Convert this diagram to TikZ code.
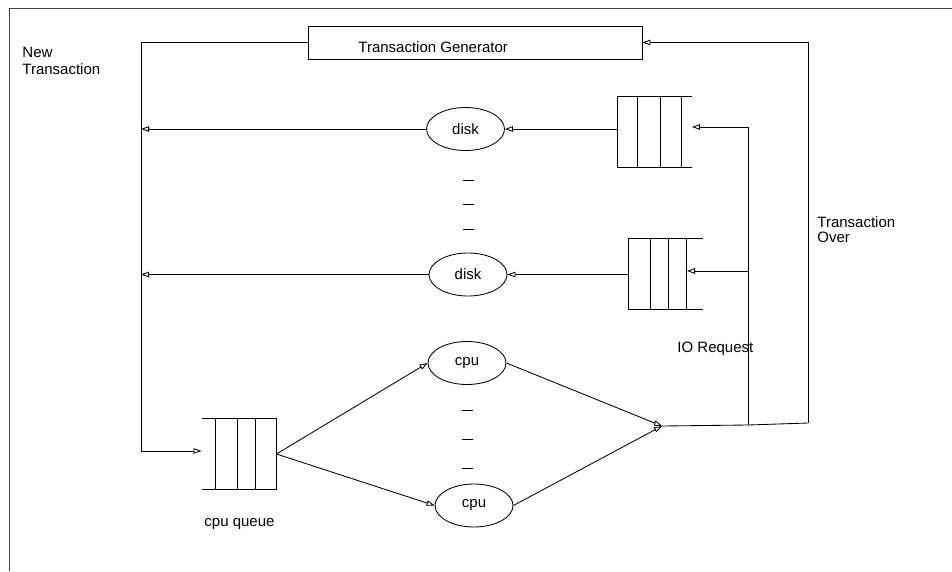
\documentclass[tikz,border=0pt]{standalone}
\usepackage{fontspec}
\setmainfont{Liberation Sans}
\usetikzlibrary{arrows.meta,shapes.geometric,calc}
\begin{document}
\begin{tikzpicture}[x=1pt,y=-1pt,line width=0.85pt,
  arr/.style={-{Triangle[open,length=8pt,width=5.5pt,line width=0.85pt]}},
  proc/.style={draw,ellipse,minimum width=78pt,minimum height=43pt,inner sep=0pt,font=\fontsize{15}{16}\selectfont},
  lbl/.style={inner sep=0pt,font=\fontsize{15}{16}\selectfont},
  qbox/.style={inner sep=0pt,minimum width=74pt,minimum height=70pt},
  dashbar/.style={line width=0.85pt}]
\useasboundingbox (0,0) rectangle (952,571);
% frame
\draw[line width=1pt,black!75] (952,8) -- (9,8) -- (9,571);
% transaction generator
\node[draw,inner sep=0pt,minimum width=334pt,minimum height=33pt] (gen) at (475,42.5) {};
\node[lbl,anchor=base west] (genlbl) at (358,52) {Transaction Generator};
% labels
\node[lbl,anchor=base west] (newA) at (22,57.5) {New};
\node[lbl,anchor=base west] (newB) at (22,74) {Transaction};
\node[lbl,anchor=base west] (overA) at (817,227) {Transaction};
\node[lbl,anchor=base west] (overB) at (817,242) {Over};
\node[lbl,anchor=base west] (ioreq) at (677,352.5) {IO Request};
\node[lbl,anchor=base west] (cqlbl) at (204,526.5) {cpu queue};
% disks and cpus
\node[proc] (disk1) at (465.5,129) {disk};
\node[proc] (disk2) at (468,274.5) {disk};
\node[proc] (cpu1) at (467,363) {cpu};
\node[proc] (cpu2) at (474,505.5) {cpu};
% dashes
\foreach \yy in {180,204,229} \draw[dashbar] (463,\yy) -- (474,\yy);
\foreach \yy in {410,439,468} \draw[dashbar] (462,\yy) -- (473,\yy);
% queues
\node[qbox] (q1) at (655,132) {};
\draw (q1.north east) -- (q1.north west) -- (q1.south west) -- (q1.south east);
\foreach \dx in {20,43,64} \draw ($(q1.north west)+(\dx,0)$) -- ($(q1.south west)+(\dx,0)$);
\node[qbox] (q2) at (666,274) {};
\draw (q2.north east) -- (q2.north west) -- (q2.south west) -- (q2.south east);
\foreach \dx in {22,40,58} \draw ($(q2.north west)+(\dx,0)$) -- ($(q2.south west)+(\dx,0)$);
\node[qbox] (cq) at (239,454) {};
\draw (cq.north west) -- (cq.north east) -- (cq.south east) -- (cq.south west);
\foreach \dx in {14,36,54} \draw ($(cq.north west)+(\dx,0)$) -- ($(cq.south west)+(\dx,0)$);
% coordinates
\coordinate (corner) at (141,451);
\coordinate (merge) at (662,426);
\coordinate (junc) at (748,425);
\coordinate (over) at (808,423);
\coordinate (q1in) at (692,127);
\coordinate (q2in) at (687,271);
% connectors
\draw[arr] (gen.west) -| (corner) -- (cq.west |- corner);
\draw[arr] (disk1.west) -- (disk1.west -| corner);
\draw[arr] (disk2.west) -- (disk2.west -| corner);
\draw[arr] (q1.west |- disk1) -- (disk1.east);
\draw[arr] (q2.west |- disk2) -- (disk2.east);
\draw[arr] (cq.east) -- (cpu1.west);
\draw[arr] (cq.east) -- (cpu2.west);
\draw[arr] (cpu1.east) -- (merge);
\draw[arr] (cpu2.east) -- (merge);
\draw (merge) -- (junc) -- (over);
\draw[arr] (over) |- (gen.east);
\draw[arr] (junc) |- (q2in);
\draw[arr] (junc) |- (q1in);
\end{tikzpicture}
\end{document}
